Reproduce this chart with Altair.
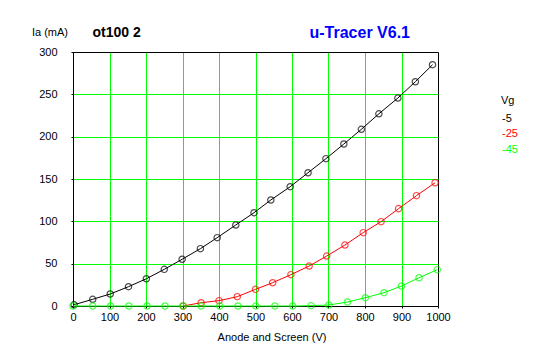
import altair as alt
import pandas as pd

# Vg = -5 V
v_m5 = [3, 54, 102, 152, 201, 250, 299, 349, 395, 446, 496, 542, 595, 644, 693, 742, 790, 838, 890, 938, 985]
ia_m5 = [1.5, 7.9, 14.2, 22.8, 32.2, 43.3, 55.2, 67.7, 80.7, 95.7, 110.2, 125.2, 140.9, 157.4, 174, 191.3, 208.7, 227, 245.6, 264.9, 285]
# Vg = -25 V
v_m25 = [302, 351, 400, 450, 500, 547, 597, 647, 695, 745, 795, 844, 892, 941, 992]
ia_m25 = [0, 3.9, 6.3, 11, 19.7, 27.5, 37, 47.2, 59, 72, 86.6, 99.6, 115, 130.3, 145.6]
# Vg = -45 V
v_m45 = [0, 54, 103, 153, 203, 252, 301, 351, 402, 452, 501, 553, 602, 652, 701, 752, 801, 852, 900, 948, 998]
ia_m45 = [0, 0, 0, 0, 0, 0, 0, 0, 0, 0, 0, 0, 0, 0.4, 1.2, 4.7, 9.8, 15.7, 23.6, 33.4, 42.9]

series_names = ["-5", "-25", "-45"]
series_colors = ["#000000", "#ff0000", "#00ff00"]
x_ticks = [0, 100, 200, 300, 400, 500, 600, 700, 800, 900, 1000]
y_ticks = [0, 50, 100, 150, 200, 250, 300]

FONT = "Liberation Sans"
GRID = "#00ff00"

xscale = alt.Scale(domain=[0, 1000], nice=False, zero=False)
yscale = alt.Scale(domain=[0, 300], nice=False, zero=False)

grid_x = {"condition": {"test": "datum.value == 0 || datum.value == 1000", "value": "#000000"}, "value": GRID}
grid_y = {"condition": {"test": "datum.value == 0 || datum.value == 300", "value": "#000000"}, "value": GRID}

xaxis = alt.Axis(values=x_ticks, format="d", title=None, grid=True, gridColor=grid_x, gridWidth=1,
                 gridOpacity=1, tickSize=2, tickColor="black", domainColor="black", labelPadding=3,
                 labelFont=FONT, labelFontSize=11, labelColor="black", labelFlush=False,
                 labelOverlap=False)
yaxis = alt.Axis(values=y_ticks, format="d", title=None, grid=True, gridColor=grid_y, gridWidth=1,
                 gridOpacity=1, tickSize=2, tickColor="black", domainColor="black", labelPadding=14,
                 labelFont=FONT, labelFontSize=11, labelColor="black", labelFlush=False,
                 labelOverlap=False)

layers = []
data_sets = [(v_m5, ia_m5), (v_m25, ia_m25), (v_m45, ia_m45)]
for i, (name, color, (vs, ias)) in enumerate(zip(series_names, series_colors, data_sets)):
    df = pd.DataFrame({"V": vs, "Ia": ias, "Vg": name})
    base = alt.Chart(df).encode(
        x=alt.X("V:Q", scale=xscale, axis=xaxis),
        y=alt.Y("Ia:Q", scale=yscale, axis=yaxis),
    )
    line = base.mark_line(strokeWidth=1, color=color)
    pts = base.mark_point(shape="circle", size=40, filled=False, strokeWidth=1.2, color=color)
    layers += [line, pts]


def label(text, x, y, color="black", size=11, weight="normal", align="left", font=FONT):
    return alt.Chart(pd.DataFrame({"t": [text]})).mark_text(
        align=align, baseline="middle", font=font, fontSize=size, fontWeight=weight, color=color
    ).encode(text="t:N", x=alt.value(x), y=alt.value(y))


layers.append(label("Ia (mA)", -23, -19.5, align="center"))
layers.append(label("ot100 2", 19.5, -19.5, size=14, weight="bold"))
layers.append(label("u-Tracer V6.1", 236.5, -19.5, size=16, weight="bold", color="#0000ff"))
layers.append(label("Anode and Screen (V)", 199, 32 + 254, align="center"))
layers.append(label("Vg", 428, 49))
legend_y = [67, 82, 98]
for name, color, ly in zip(series_names, series_colors, legend_y):
    layers.append(label(name, 429, ly, color=color))

chart = alt.layer(*layers).properties(
    width=365, height=254,
    autosize=alt.AutoSizeParams(type="none"),
    padding={"left": 65, "top": 44, "right": 100, "bottom": 43},
).configure_view(stroke="black", strokeWidth=1).configure(background="white")

chart.save("out.html", embed_options={"renderer": "svg", "actions": False})
